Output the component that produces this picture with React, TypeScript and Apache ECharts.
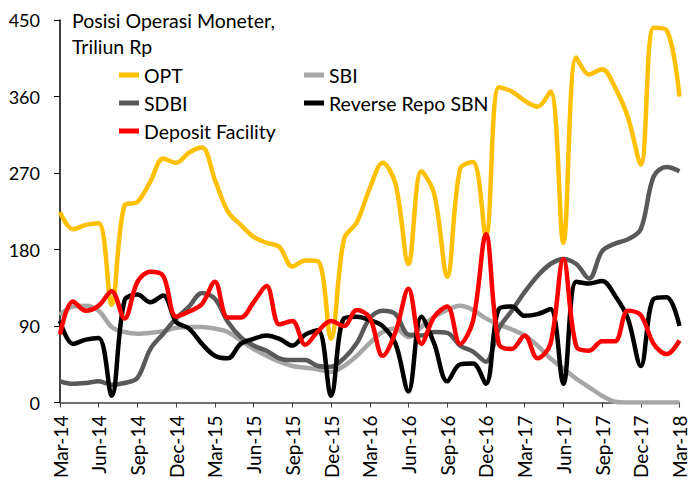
import React, { useEffect, useRef } from "react";
import * as echarts from "echarts";

const months = [
  "Mar-14", "Apr-14", "May-14", "Jun-14", "Jul-14", "Aug-14", "Sep-14", "Oct-14", "Nov-14", "Dec-14",
  "Jan-15", "Feb-15", "Mar-15", "Apr-15", "May-15", "Jun-15", "Jul-15", "Aug-15", "Sep-15", "Oct-15", "Nov-15", "Dec-15",
  "Jan-16", "Feb-16", "Mar-16", "Apr-16", "May-16", "Jun-16", "Jul-16", "Aug-16", "Sep-16", "Oct-16", "Nov-16", "Dec-16",
  "Jan-17", "Feb-17", "Mar-17", "Apr-17", "May-17", "Jun-17", "Jul-17", "Aug-17", "Sep-17", "Oct-17", "Nov-17", "Dec-17",
  "Jan-18", "Feb-18", "Mar-18",
];

const opt = [
  224, 204, 209, 211, 115, 232, 236, 260, 287, 282,
  294, 300, 262, 225, 209, 195, 188, 183, 160, 167, 166, 75,
  192, 212, 252, 282, 257, 163, 272, 245, 148, 275, 283, 196,
  371, 366, 355, 348, 366, 188, 406, 386, 392, 371, 336, 280,
  441, 438, 360,
];

const sbi = [
  103, 113, 114, 108, 89, 83, 81, 82, 84, 88,
  89, 89, 87, 83, 73, 63, 55, 48, 43, 41, 39, 36,
  43, 55, 70, 83, 87, 77, 89, 101, 109, 114, 109, 99,
  92, 86, 79, 67, 52, 40, 28, 18, 8, 1, 0, 0,
  0, 0, 0,
];

const sdbi = [
  25, 22, 23, 25, 21, 23, 29, 63, 81, 99,
  113, 129, 122, 95, 77, 67, 61, 52, 50, 50, 43, 42,
  52, 70, 99, 108, 104, 80, 79, 83, 82, 67, 60, 48,
  87, 108, 130, 149, 163, 169, 163, 146, 178, 187, 192, 204,
  266, 277, 272,
];

const reverseRepo = [
  96, 69, 74, 76, 8, 120, 127, 118, 126, 95,
  87, 69, 55, 52, 69, 75, 79, 75, 67, 80, 85, 8,
  99, 101, 97, 90, 69, 13, 101, 69, 25, 45, 46, 22,
  110, 113, 102, 104, 110, 22, 142, 140, 143, 126, 99, 43,
  122, 124, 90,
];

const depositFacility = [
  80, 119, 108, 114, 131, 99, 142, 154, 149, 101,
  107, 116, 142, 100, 100, 118, 137, 92, 96, 68, 84, 96,
  90, 109, 100, 55, 83, 134, 69, 101, 113, 69, 96, 198,
  69, 63, 79, 52, 69, 169, 66, 61, 72, 72, 108, 103,
  69, 57, 73,
];

const seriesNames = ["OPT", "SBI", "SDBI", "Reverse Repo SBN", "Deposit Facility"];
const seriesColors = ["#FFC000", "#A6A6A6", "#595959", "#000000", "#FF0000"];
const seriesData = [opt, sbi, sdbi, reverseRepo, depositFacility];

const titleText = "Posisi Operasi Moneter,\nTriliun Rp";
const FONT = "Lato";

export default function App() {
  const ref = useRef<HTMLDivElement>(null);

  useEffect(() => {
    if (!ref.current) return;
    const chart = echarts.init(ref.current, undefined, { renderer: "svg" });

    const legendPos = [
      { left: 119, top: 65 },
      { left: 304, top: 65 },
      { left: 119, top: 93 },
      { left: 304, top: 93 },
      { left: 119, top: 121 },
    ];

    chart.setOption({
      animation: false,
      backgroundColor: "#ffffff",
      title: {
        text: titleText,
        left: 72,
        top: 7,
        padding: 0,
        textStyle: {
          fontFamily: FONT,
          fontSize: 19.5,
          fontWeight: "normal",
          color: "#000",
          lineHeight: 26,
        },
      },
      legend: seriesNames.map((name, i) => ({
        data: [name],
        left: legendPos[i].left,
        top: legendPos[i].top,
        padding: 0,
        icon: "rect",
        itemWidth: 20,
        itemHeight: 5,
        textStyle: { fontFamily: FONT, fontSize: 19.5, color: "#000" },
        selectedMode: false,
      })),
      grid: { left: 60, right: 6, top: 20, bottom: 77, containLabel: false },
      xAxis: {
        type: "category",
        data: months,
        boundaryGap: false,
        axisLine: { lineStyle: { color: "#404040", width: 1.5 } },
        axisTick: { interval: 2, length: 5, lineStyle: { color: "#404040" } },
        axisLabel: {
          interval: 2,
          rotate: 90,
          margin: 13,
          fontFamily: FONT,
          fontSize: 19,
          color: "#000",
        },
        splitLine: { show: false },
      },
      yAxis: {
        type: "value",
        min: 0,
        max: 450,
        interval: 90,
        axisLine: { show: true, lineStyle: { color: "#000", width: 1.5 } },
        axisTick: { show: true, length: 6, lineStyle: { color: "#000" } },
        axisLabel: { margin: 20, fontFamily: FONT, fontSize: 18, color: "#000" },
        splitLine: { show: false },
      },
      series: seriesNames.map((name, i) => ({
        name,
        type: "line",
        data: seriesData[i],
        smooth: 0.35,
        symbol: "none",
        showSymbol: false,
        itemStyle: { color: seriesColors[i] },
        lineStyle: { color: seriesColors[i], width: 4.5 },
      })),
    });

    return () => chart.dispose();
  }, []);

  return (
    <div
      ref={ref}
      style={{ position: "fixed", left: 0, top: 0, width: 689, height: 481 }}
    />
  );
}
